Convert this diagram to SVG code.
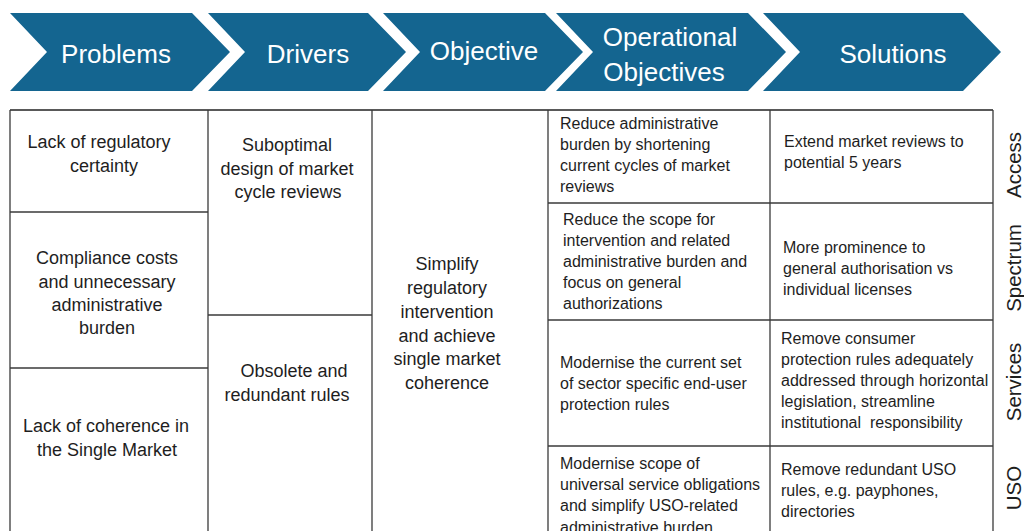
<svg xmlns="http://www.w3.org/2000/svg" width="1024" height="531" viewBox="0 0 1024 531">
<style>
.chev{fill:#146590}
.ct{font-family:"Liberation Sans",Arial,sans-serif;font-size:26px;fill:#ffffff;text-anchor:middle}
.grid line{stroke:#3a3a3a;stroke-width:1.3}
.t18{font-family:"Liberation Sans",Arial,sans-serif;font-size:18px;fill:#1e1e1e;text-anchor:middle}
.t16{font-family:"Liberation Sans",Arial,sans-serif;font-size:16px;fill:#1e1e1e}
.side{font-family:"Liberation Sans",Arial,sans-serif;font-size:20.5px;fill:#1e1e1e;text-anchor:middle}
</style>
<rect width="1024" height="531" fill="#ffffff"/>
<g id="header">
  <g id="chev-problems"><polygon class="chev" points="10,13 192,13 230,52 192,91 10,91 47,52"/><text class="ct" x="116" y="63">Problems</text></g>
  <g id="chev-drivers"><polygon class="chev" points="208,13 368,13 406,52 368,91 208,91 245,52"/><text class="ct" x="308" y="63">Drivers</text></g>
  <g id="chev-objective"><polygon class="chev" points="383,13 545,13 583,52 545,91 383,91 420,52"/><text class="ct" x="484" y="60">Objective</text></g>
  <g id="chev-opobj"><polygon class="chev" points="556,13 748,13 786,52 748,91 556,91 593,52"/><text class="ct" x="670" y="46">Operational</text><text class="ct" x="664" y="81">Objectives</text></g>
  <g id="chev-solutions"><polygon class="chev" points="763,13 963,13 1001,52 963,91 763,91 800,52"/><text class="ct" x="893" y="63">Solutions</text></g>
</g>
<g id="connectors" class="grid">
  <line x1="10" y1="110" x2="993" y2="110" style="stroke:#222;stroke-width:1.6"/>
  <line x1="10" y1="110" x2="10" y2="531"/>
  <line x1="993" y1="110" x2="993" y2="531"/>
  <line x1="208" y1="110" x2="208" y2="531"/>
  <line x1="372" y1="110" x2="372" y2="531"/>
  <line x1="548" y1="110" x2="548" y2="531"/>
  <line x1="770" y1="110" x2="770" y2="531"/>
  <line x1="10" y1="212" x2="208" y2="212"/>
  <line x1="10" y1="368" x2="208" y2="368"/>
  <line x1="208" y1="315" x2="372" y2="315"/>
  <line x1="548" y1="203" x2="993" y2="203"/>
  <line x1="548" y1="320" x2="993" y2="320"/>
  <line x1="548" y1="446" x2="993" y2="446"/>
</g>
<g id="problem-1"><text class="t18" x="99" y="148">Lack of regulatory</text><text class="t18" x="104" y="172">certainty</text></g>
<g id="problem-2"><text class="t18" x="107" y="264">Compliance costs</text><text class="t18" x="107" y="288">and unnecessary</text><text class="t18" x="107" y="311">administrative</text><text class="t18" x="107" y="334">burden</text></g>
<g id="problem-3"><text class="t18" x="106" y="432">Lack of coherence in</text><text class="t18" x="107" y="456">the Single Market</text></g>
<g id="driver-1"><text class="t18" x="287" y="151">Suboptimal</text><text class="t18" x="287" y="175">design of market</text><text class="t18" x="288" y="198">cycle reviews</text></g>
<g id="driver-2"><text class="t18" x="294" y="377">Obsolete and</text><text class="t18" x="287" y="401">redundant rules</text></g>
<g id="objective"><text class="t18" x="447" y="270">Simplify</text><text class="t18" x="447" y="294">regulatory</text><text class="t18" x="447" y="318">intervention</text><text class="t18" x="447" y="342">and achieve</text><text class="t18" x="447" y="365">single market</text><text class="t18" x="447" y="389">coherence</text></g>
<g id="opobj-1"><text class="t16" x="560" y="129">Reduce administrative</text><text class="t16" x="560" y="150">burden by shortening</text><text class="t16" x="560" y="171">current cycles of market</text><text class="t16" x="560" y="192">reviews</text></g>
<g id="opobj-2"><text class="t16" x="563" y="225">Reduce the scope for</text><text class="t16" x="563" y="246">intervention and related</text><text class="t16" x="563" y="267">administrative burden and</text><text class="t16" x="563" y="288">focus on general</text><text class="t16" x="563" y="309">authorizations</text></g>
<g id="opobj-3"><text class="t16" x="560" y="368">Modernise the current set</text><text class="t16" x="560" y="389">of sector specific end-user</text><text class="t16" x="560" y="410">protection rules</text></g>
<g id="opobj-4"><text class="t16" x="560" y="469">Modernise scope of</text><text class="t16" x="560" y="490">universal service obligations</text><text class="t16" x="560" y="511">and simplify USO-related</text><text class="t16" x="560" y="533">administrative burden</text></g>
<g id="solution-1"><text class="t16" x="784" y="147">Extend market reviews to</text><text class="t16" x="784" y="168">potential 5 years</text></g>
<g id="solution-2"><text class="t16" x="783" y="253">More prominence to</text><text class="t16" x="783" y="274">general authorisation vs</text><text class="t16" x="783" y="295">individual licenses</text></g>
<g id="solution-3"><text class="t16" x="781" y="344">Remove consumer</text><text class="t16" x="781" y="365">protection rules adequately</text><text class="t16" x="781" y="386">addressed through horizontal</text><text class="t16" x="781" y="407">legislation, streamline</text><text class="t16" x="781" y="428" xml:space="preserve">institutional  responsibility</text></g>
<g id="solution-4"><text class="t16" x="781" y="475">Remove redundant USO</text><text class="t16" x="781" y="496">rules, e.g. payphones,</text><text class="t16" x="781" y="517">directories</text></g>
<g id="label-access"><text class="side" transform="translate(1021,165) rotate(-90)">Access</text></g>
<g id="label-spectrum"><text class="side" transform="translate(1021,268) rotate(-90)">Spectrum</text></g>
<g id="label-services"><text class="side" transform="translate(1021,382) rotate(-90)">Services</text></g>
<g id="label-uso"><text class="side" transform="translate(1021,488) rotate(-90)">USO</text></g>
</svg>
